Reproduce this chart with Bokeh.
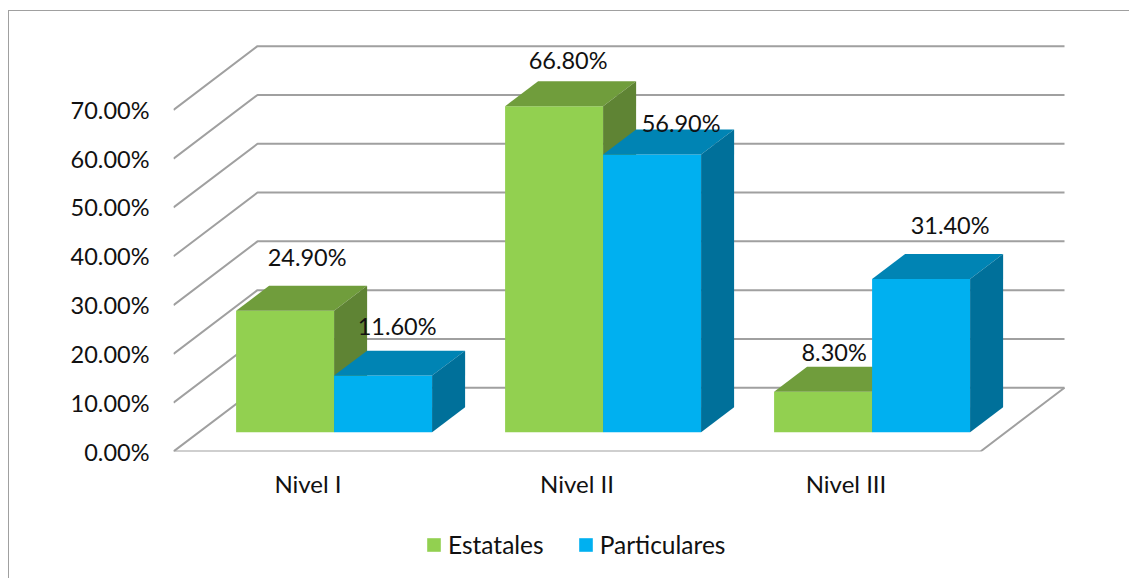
from bokeh.embed import file_html
from bokeh.resources import INLINE
from bokeh.plotting import figure
from bokeh.layouts import column
from bokeh.models import Range1d, NumeralTickFormatter, FixedTicker, Legend, LegendItem, ColumnDataSource
from bokeh.core.properties import value

categories = ["Nivel I", "Nivel II", "Nivel III"]
estatales = [0.249, 0.668, 0.083]
particulares = [0.116, 0.569, 0.314]
y_ticks = [0.0, 0.1, 0.2, 0.3, 0.4, 0.5, 0.6, 0.7]
series_names = ["Estatales", "Particulares"]

FONT = "Lato"
FS = "24px"
FS_NUM = "23.5px"
FS_LEG = "24.5px"
GRID = "#A0A0A0"

# Oblique projection, expressed in axis units (category, fraction)
DX, DY = 0.3123, 0.1306          # depth of the floor
BAR_DX, BAR_DY = 0.1227, 0.0512  # depth of a bar
BAR_W = 0.3643                   # width of a bar
BAR_X0 = -0.2673                 # left of the first bar, from category centre
BASE = 0.0395                    # height of the bar base above the front floor line

W, H1, H2 = 1120, 500, 67
p = figure(width=W, height=H1, output_backend="svg", toolbar_location=None,
           x_range=Range1d(-0.5, 3.0539), y_range=Range1d(0, 0.9016),
           min_border_left=164, min_border_right=0, min_border_top=0, min_border_bottom=60,
           outline_line_color=None, background_fill_color="white", border_fill_color="white")
p.grid.visible = False

# axes
yax = p.yaxis[0]
yax.ticker = FixedTicker(ticks=y_ticks)
yax.formatter = NumeralTickFormatter(format="0.00%")
xax = p.xaxis[0]
xax.ticker = FixedTicker(ticks=[0, 1, 2])
xax.major_label_overrides = {i: c for i, c in enumerate(categories)}
for ax, standoff, fs in ((yax, 18, FS_NUM), (xax, 11, FS)):
    ax.axis_line_color = None
    ax.major_tick_line_color = None
    ax.minor_tick_line_color = None
    ax.major_label_standoff = standoff
    ax.major_label_text_font = FONT
    ax.major_label_text_font_size = fs
    ax.major_label_text_color = "#111111"

# walls + floor
x_left, x_right = -0.5, 2.5
gx, gy = [], []
for t in y_ticks:
    gx.append([x_left, x_left + DX, x_right + DX])
    gy.append([t, t + DY, t + DY])
gx.append([x_left, x_right, x_right + DX])
gy.append([0, 0, DY])
p.multi_line(gx, gy, line_color=GRID, line_width=2)

# 3D bars
palette = {
    "Estatales": ("#92D050", "#709D3C", "#5F8434"),
    "Particulares": ("#00B0F0", "#0084B4", "#00709A"),
}
for i in range(len(categories)):
    for j, (name, vals) in enumerate(zip(series_names, (estatales, particulares))):
        v = vals[i]
        x0 = i + BAR_X0 + j * BAR_W
        x1 = x0 + BAR_W
        y0, y1 = BASE, BASE + v
        front, top, side = palette[name]
        p.quad(left=[x0], right=[x1], bottom=[y0], top=[y1], fill_color=front, line_color=None)
        p.patch([x0, x1, x1 + BAR_DX, x0 + BAR_DX], [y1, y1, y1 + BAR_DY, y1 + BAR_DY],
                fill_color=top, line_color=None)
        p.patch([x1, x1 + BAR_DX, x1 + BAR_DX, x1], [y0, y0 + BAR_DY, y1 + BAR_DY, y1],
                fill_color=side, line_color=None)

# data labels, anchored on the back edge of each bar's top
lab_x, lab_y, lab_t, lab_dx, lab_dy = [], [], [], [], []
offsets = {(0, 0): (22, 29), (0, 1): (14, 25), (1, 0): (14, 21),
           (1, 1): (29, 7), (2, 0): (11, 15), (2, 1): (29, 29)}
for i in range(len(categories)):
    for j, vals in enumerate((estatales, particulares)):
        lab_x.append(i + BAR_X0 + j * BAR_W + BAR_W / 2)
        lab_y.append(BASE + vals[i] + BAR_DY)
        lab_t.append(f"{vals[i] * 100:.2f}%")
        ox, oy = offsets[(i, j)]
        lab_dx.append(ox)
        lab_dy.append(-oy)
src = ColumnDataSource(dict(x=lab_x, y=lab_y, t=lab_t, dx=lab_dx, dy=lab_dy))
p.text("x", "y", text="t", x_offset="dx", y_offset="dy", source=src, text_align="center",
       text_baseline="middle", text_font=value(FONT), text_font_size=FS_NUM, text_color="#111111")

# legend strip: its swatches take colours from glyphs that lie outside the strip's range
q = figure(width=W, height=H2, output_backend="svg", toolbar_location=None,
           x_range=Range1d(0, 1), y_range=Range1d(0, 1), x_axis_type=None, y_axis_type=None,
           min_border=0, outline_line_color=None, background_fill_color="white", border_fill_color="white")
q.grid.visible = False
items = []
for name in series_names:
    r = q.quad(left=[2], right=[3], bottom=[2], top=[3], fill_color=palette[name][0], line_color=None)
    items.append(LegendItem(label=name, renderers=[r]))
legend = Legend(items=items, orientation="horizontal", location=(252, 19), background_fill_alpha=0,
                border_line_color=None, glyph_width=17, glyph_height=17, label_standoff=6,
                spacing=33, padding=4, margin=0, label_text_font=FONT,
                label_text_font_size=FS_LEG, label_text_color="#111111")
q.add_layout(legend, "center")

page = column(p, q, spacing=0, styles={"margin-top": "10px", "margin-left": "8px",
                                       "border-left": "1px solid #A0A0A0", "border-top": "1px solid #A0A0A0"})

open("out.html", "w").write(file_html(page, INLINE))
